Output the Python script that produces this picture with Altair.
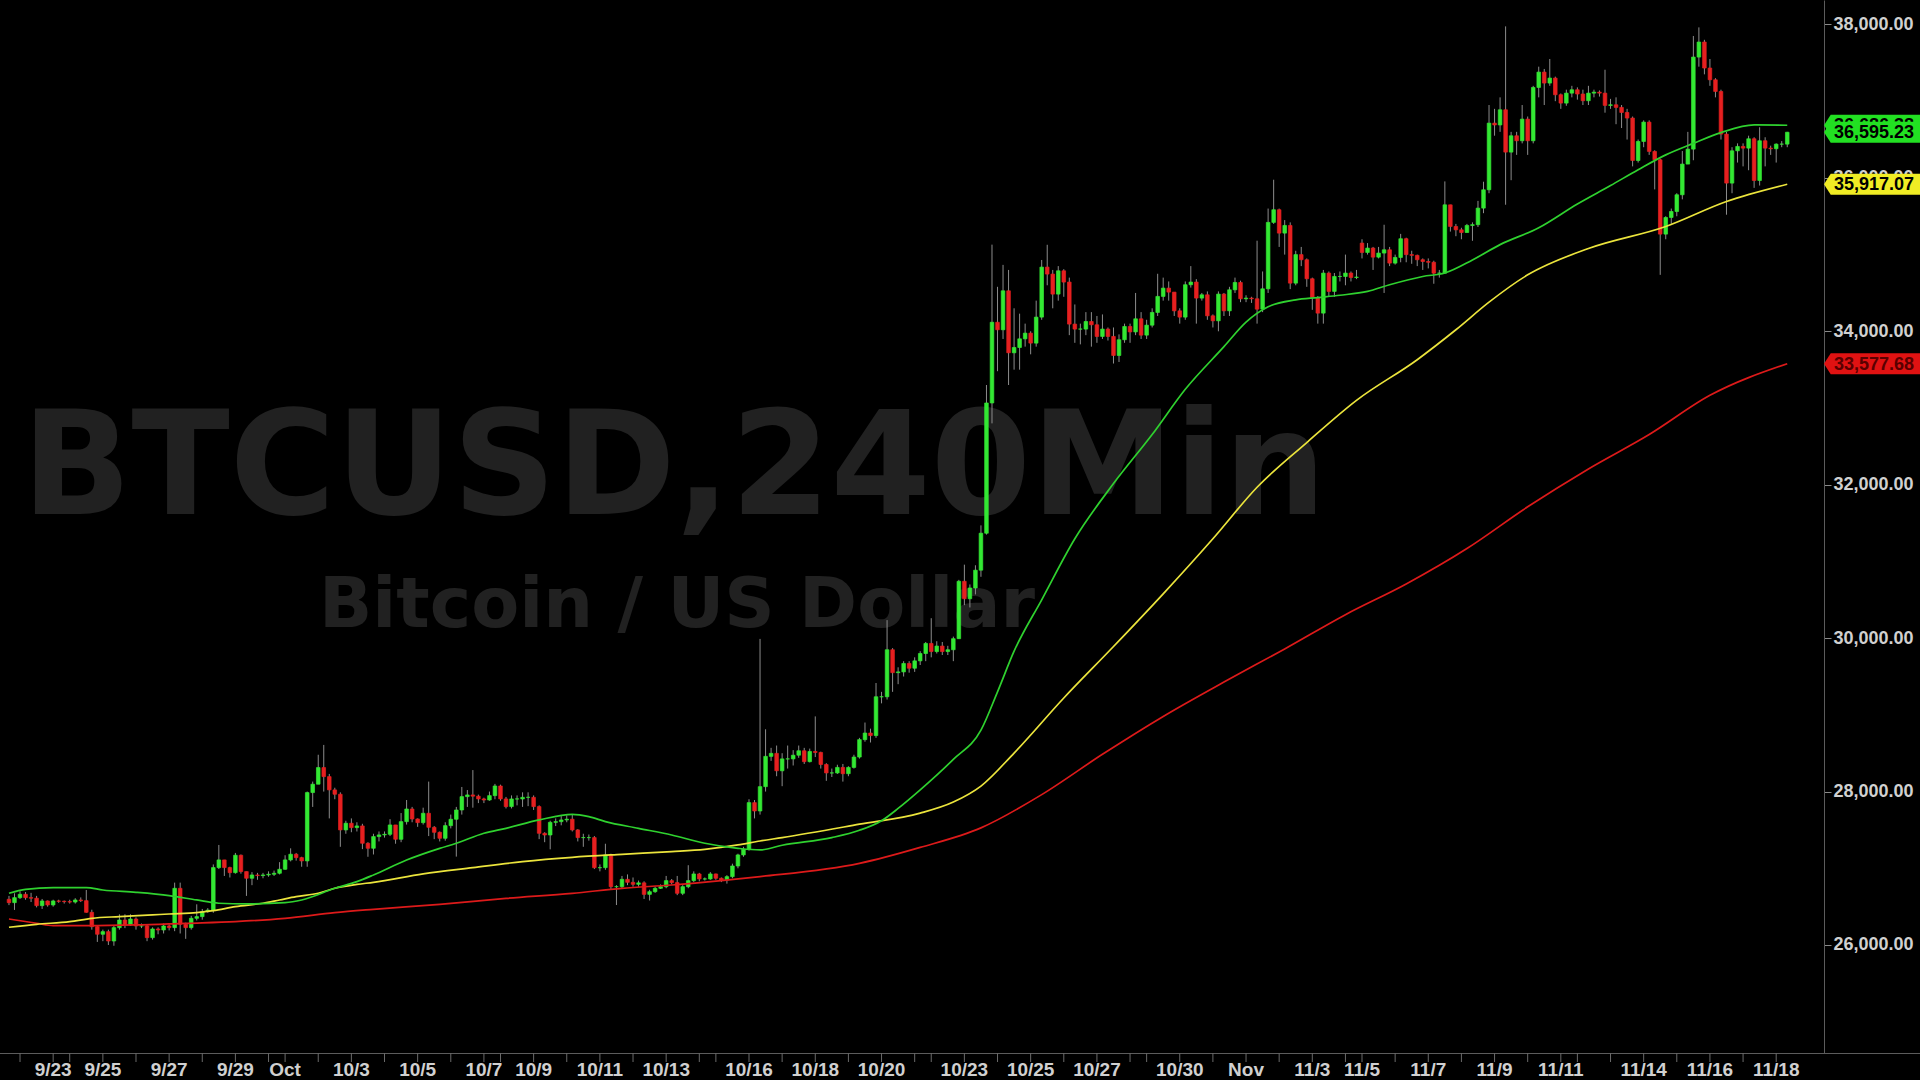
import altair as alt
import pandas as pd

# ---------------- data ----------------
FIRST_OPEN = 26596
OPEN_GAPS = {245: 35150}

CLOSE = [
    26552, 26617, 26661, 26617, 26610, 26513, 26574, 26522, 26574, 26570,
    26565, 26560, 26587, 26578, 26426, 26239, 26140, 26174, 26052, 26226,
    26326, 26261, 26339, 26248, 26250, 26096, 26209, 26196, 26248, 26226,
    26739, 26270, 26226, 26348, 26370, 26435, 26455, 27009, 27109, 27009,
    26943, 27170, 26957, 26870, 26913, 26905, 26913, 26922, 26935, 26987,
    27109, 27183, 27139, 27096, 27987, 28096, 28313, 28195, 28022, 27965,
    27500, 27587, 27530, 27552, 27326, 27261, 27413, 27435, 27443, 27565,
    27378, 27608, 27773, 27643, 27595, 27717, 27534, 27469, 27391, 27556,
    27639, 27760, 27934, 27956, 27940, 27904, 27890, 27947, 28073, 27904,
    27804, 27904, 27904, 27925, 27925, 27804, 27456, 27434, 27599, 27608,
    27630, 27640, 27500, 27400, 27400, 27400, 27008, 27008, 27174, 26760,
    26760, 26856, 26817, 26791, 26810, 26660, 26695, 26739, 26760, 26839,
    26813, 26674, 26760, 26839, 26926, 26861, 26861, 26926, 26870, 26847,
    26891, 27030, 27174, 27247, 27856, 27747, 28064, 28459, 28498, 28271,
    28426, 28426, 28474, 28532, 28390, 28523, 28510, 28353, 28243, 28243,
    28315, 28233, 28315, 28450, 28677, 28763, 28730, 29236, 29236, 29849,
    29550, 29560, 29670, 29608, 29704, 29800, 29931, 29825, 29897, 29825,
    29849, 29993, 30741, 30514, 30654, 30886, 31368, 33066, 34118, 34020,
    34528, 33720, 33789, 33902, 33976, 33846, 34185, 34837, 34746, 34485,
    34789, 34642, 34094, 34029, 34029, 34128, 34085, 33933, 34029, 33933,
    33685, 33890, 34063, 33992, 34163, 33950, 34080, 34246, 34455, 34563,
    34511, 34267, 34185, 34607, 34642, 34433, 34476, 34202, 34137, 34485,
    34267, 34541, 34637, 34424, 34433, 34424, 34289, 34554, 35420, 35585,
    35280, 35380, 34628, 35000, 34933, 34685, 34441, 34237, 34759, 34520,
    34715, 34715, 34759, 34702, 34707, 35028, 35085, 34967, 35020, 35063,
    34889, 34963, 35207, 35000, 34990, 34933, 34910, 34900, 34758, 34758,
    35649, 35367, 35323, 35288, 35380, 35390, 35606, 35845, 36714, 36690,
    36888, 36336, 36549, 36484, 36766, 36484, 37179, 37379, 37236, 37301,
    37084, 36975, 37105, 37149, 37093, 37006, 37105, 37118, 37105, 36945,
    36953, 36919, 36853, 36780, 36227, 36475, 36727, 36345, 36236, 35267,
    35484, 35562, 35780, 36180, 36375, 37575, 37771, 37432, 37279, 37127,
    36571, 35932, 36353, 36410, 36388, 36510, 35966, 36484, 36388, 36380,
    36440, 36440, 36595,
]

HIGH = [
    26640, 26674, 26700, 26690, 26680, 26640, 26600, 26580, 26590, 26590,
    26580, 26590, 26610, 26620, 26717, 26460, 26260, 26200, 26200, 26250,
    26400, 26400, 26400, 26360, 26280, 26270, 26230, 26230, 26280, 26270,
    26813, 26813, 26290, 26380, 26530, 26470, 26480, 27050, 27304, 27100,
    27020, 27200, 27180, 26950, 26950, 26940, 26940, 26960, 26970, 27080,
    27170, 27260, 27200, 27150, 28000, 28130, 28480, 28608, 28230, 28050,
    27990, 27620, 27650, 27600, 27580, 27340, 27450, 27480, 27480, 27640,
    27560, 27720, 27890, 27800, 27650, 27790, 28130, 27550, 27480, 27600,
    27700, 27800, 28060, 28020, 28280, 27960, 27920, 28000, 28100, 28090,
    27930, 27950, 27950, 27990, 27990, 27950, 27820, 27470, 27620, 27650,
    27680, 27690, 27700, 27510, 27450, 27440, 27420, 27050, 27320, 27190,
    26780, 26900, 26920, 26880, 26840, 26830, 26720, 26760, 26790, 26900,
    26860, 26900, 26780, 27040, 26960, 26940, 26880, 26950, 26930, 26880,
    26910, 27060, 27190, 27280, 27900, 27890, 29990, 28812, 28570, 28600,
    28500, 28600, 28540, 28600, 28570, 28560, 28980, 28520, 28370, 28300,
    28350, 28360, 28330, 28480, 28700, 28900, 28820, 29415, 29300, 30235,
    29870, 29620, 29700, 29700, 29750, 29830, 29950, 30260, 29960, 29950,
    29900, 30020, 30760, 30958, 30700, 30950, 31470, 33300, 35130, 34580,
    34866, 34800, 34300, 34230, 34100, 34000, 34400, 34930, 35128, 34800,
    34850, 34810, 34700, 34350, 34100, 34250, 34250, 34200, 34220, 34050,
    34050, 33960, 34100, 34100, 34500, 34250, 34150, 34300, 34750, 34700,
    34650, 34500, 34300, 34650, 34850, 34680, 34500, 34520, 34220, 34520,
    34500, 34580, 34700, 34660, 34470, 34450, 35181, 34780, 35600, 35976,
    35600, 35450, 35420, 35050, 35100, 34950, 34700, 34460, 34800, 34780,
    34760, 34780, 35000, 34780, 34800, 35200, 35150, 35100, 35100, 35389,
    35100, 35000, 35270, 35220, 35050, 35000, 34950, 34950, 34920, 34800,
    35954, 35650, 35400, 35350, 35400, 35420, 35700, 35950, 36950, 36900,
    37050, 37975, 36600, 36600, 36950, 36800, 37200, 37450, 37420, 37550,
    37320, 37100, 37150, 37200, 37180, 37150, 37200, 37150, 37140, 37410,
    37030, 37050, 36950, 36900, 36800, 36500, 36750, 36750, 36360, 36250,
    35500, 35600, 35800, 36350, 36600, 37850, 37962, 37800, 37550, 37300,
    37150, 36600, 36400, 36450, 36450, 36550, 36530, 36660, 36530, 36420,
    36450, 36480, 36600,
]

LOW = [
    26520, 26457, 26600, 26590, 26560, 26490, 26470, 26500, 26500, 26550,
    26540, 26540, 26540, 26560, 26420, 26200, 26040, 26050, 26000, 25990,
    26200, 26220, 26250, 26200, 26220, 26050, 26070, 26140, 26150, 26190,
    26180, 26150, 26080, 26200, 26320, 26330, 26420, 26420, 26990, 26900,
    26880, 26930, 26930, 26640, 26780, 26850, 26870, 26890, 26900, 26920,
    26980, 27090, 27100, 27020, 27020, 27800, 28110, 28000, 27650, 27900,
    27280, 27450, 27470, 27480, 27250, 27150, 27180, 27350, 27400, 27420,
    27320, 27340, 27570, 27600, 27540, 27570, 27420, 27380, 27350, 27360,
    27520, 27152, 27700, 27800, 27790, 27850, 27850, 27880, 27900, 27880,
    27780, 27780, 27820, 27800, 27810, 27760, 27380, 27340, 27247, 27550,
    27560, 27600, 27480, 27350, 27280, 27360, 26990, 26960, 26980, 26720,
    26521, 26740, 26780, 26760, 26760, 26600, 26580, 26680, 26730, 26740,
    26790, 26650, 26650, 26740, 26820, 26830, 26840, 26850, 26850, 26820,
    26800, 26870, 27000, 27150, 27230, 27650, 27700, 28000, 28400, 28200,
    28070, 28300, 28340, 28440, 28360, 28380, 28450, 28300, 28140, 28190,
    28230, 28130, 28200, 28300, 28430, 28650, 28640, 28700, 29150, 29200,
    29300, 29400, 29500, 29550, 29560, 29650, 29700, 29750, 29800, 29780,
    29780, 29700, 29990, 30430, 30400, 30570, 30800, 31350, 32800, 33480,
    33900, 33300, 33500, 33500, 33800, 33700, 33800, 34150, 34600, 34300,
    34400, 34450, 33950, 33850, 33830, 33950, 33800, 33850, 33900, 33880,
    33580, 33600, 33850, 33850, 33950, 33900, 33900, 34050, 34200, 34400,
    34400, 34200, 34100, 34150, 34570, 34100, 34400, 34150, 34050, 34000,
    34200, 34200, 34500, 34380, 34380, 34370, 34100, 34250, 34500, 35400,
    35100, 35000, 34550, 34600, 34850, 34580, 34280, 34100, 34100, 34450,
    34450, 34650, 34600, 34650, 34680, 34950, 35000, 34800, 34950, 34500,
    34850, 34870, 34900, 34900, 34880, 34850, 34800, 34820, 34620, 34700,
    34750, 35300, 35240, 35200, 35300, 35180, 35360, 35540, 35800, 36550,
    36600, 35650, 35970, 36300, 36450, 36300, 36450, 37050, 36950, 37200,
    37000, 36900, 36940, 37050, 37020, 36950, 36950, 37050, 37060, 36850,
    36900, 36700, 36650, 36500, 36150, 36200, 36400, 36300, 35850, 34736,
    35200, 35400, 35500, 35720, 36200, 36230, 37450, 37350, 37200, 37050,
    36500, 35520, 35800, 36200, 36150, 36100, 35870, 35900, 36150, 36300,
    36200, 36400, 36400,
]

GREEN_I = [0, 3, 8, 14, 17, 23, 29, 34, 38, 43, 50, 53, 59, 63, 66, 72, 78, 81, 86, 90,
           96, 102, 105, 108, 114, 120, 126, 132, 136, 140, 149, 154, 158, 161, 165, 171,
           176, 179, 182, 187, 193, 200, 207, 213, 220, 224, 228, 233, 237, 241, 246, 250,
           256, 260, 265, 270, 277, 284, 290, 295, 300, 305, 310, 316, 322]
GREEN_V = [26674, 26726, 26748, 26748, 26717, 26687, 26644, 26587, 26544, 26535, 26552,
           26587, 26739, 26826, 26913, 27108, 27260, 27326, 27456, 27521, 27630, 27704,
           27673, 27608, 27521, 27434, 27326, 27260, 27239, 27300, 27400, 27495, 27620,
           27780, 28022, 28420, 28800, 29300, 29830, 30500, 31296, 32015, 32654, 33244,
           33800, 34120, 34320, 34410, 34440, 34470, 34520, 34607, 34715, 34760, 34930,
           35130, 35350, 35660, 35900, 36106, 36300, 36450, 36590, 36690, 36686]

YELLOW_I = [0, 5, 11, 15, 20, 26, 29, 34, 37, 41, 46, 49, 52, 56, 59, 63, 66, 75, 84, 93,
            102, 111, 120, 126, 132, 136, 140, 154, 165, 171, 176, 182, 191, 200, 209, 218,
            226, 235, 244, 255, 262, 268, 275, 286, 300, 311, 322]
YELLOW_V = [26231, 26270, 26304, 26348, 26370, 26392, 26404, 26422, 26448, 26500, 26544,
            26587, 26630, 26674, 26740, 26790, 26817, 26926, 27008, 27087, 27143, 27182,
            27217, 27247, 27304, 27356, 27400, 27575, 27719, 27863, 28071, 28502, 29220,
            29891, 30578, 31296, 31967, 32550, 33100, 33630, 34020, 34380, 34736, 35080,
            35367, 35693, 35917]

RED_I = [0, 5, 8, 14, 23, 32, 41, 50, 59, 66, 78, 90, 102, 111, 120, 129, 136, 154, 165,
         176, 187, 198, 209, 220, 231, 242, 253, 264, 275, 286, 297, 308, 322]
RED_V = [26339, 26283, 26252, 26252, 26261, 26283, 26305, 26348, 26422, 26465, 26530,
         26608, 26674, 26739, 26782, 26839, 26891, 27064, 27272, 27527, 27960, 28486,
         28980, 29428, 29859, 30306, 30706, 31168, 31712, 32206, 32654, 33165, 33578]

DAY_TICKS = [2, 8, 11, 17, 23, 29, 35, 41, 47, 50, 56, 62, 68, 74, 80, 86, 89, 95, 101,
             107, 113, 119, 125, 128, 134, 140, 146, 152, 158, 164, 167, 173, 179, 185,
             191, 197, 203, 206, 212, 218, 224, 230, 236, 242, 245, 251, 257, 263, 269,
             275, 281, 284, 290, 296, 302, 308, 314, 320]
LABEL_POS = [8, 17, 29, 41, 50, 62, 74, 86, 95, 107, 119, 134, 146, 158, 173, 185, 197,
             212, 224, 236, 245, 257, 269, 281, 296, 308, 320]
LABEL_TEXT = ["9/23", "9/25", "9/27", "9/29", "Oct", "10/3", "10/5", "10/7", "10/9",
              "10/11", "10/13", "10/16", "10/18", "10/20", "10/23", "10/25", "10/27",
              "10/30", "Nov", "11/3", "11/5", "11/7", "11/9", "11/11", "11/14", "11/16",
              "11/18"]
PRICE_TICKS = [26000, 28000, 30000, 32000, 34000, 36000, 38000]

FLAG_VALUES = [36686.38, 36595.23, 35917.07, 33577.68]
WATERMARK = ["BTCUSD,240Min", "Bitcoin / US Dollar"]

# ---------------- styles ----------------
UP, DOWN = "#33e833", "#e62020"
FLAG_FILL = ["#22e022", "#22e022", "#f0ec24", "#e01212"]
FLAG_TEXT = ["#000000", "#000000", "#000000", "#5a0000"]
AXIS_GREY = "#5c5c5c"
LABEL_GREY = "#d0d0d0"
W, H = 1824, 1053

# ---------------- build tables ----------------
n = len(CLOSE)
opens = [FIRST_OPEN] + CLOSE[:-1]
for k, v in OPEN_GAPS.items():
    opens[k] = v
df = pd.DataFrame({"i": list(range(n)), "o": opens, "c": CLOSE, "h": HIGH, "l": LOW})
df["h"] = df[["h", "o", "c"]].max(axis=1)
df["l"] = df[["l", "o", "c"]].min(axis=1)
df["dir"] = ["up" if c >= o else "down" for o, c in zip(df["o"], df["c"])]

xs = alt.Scale(domain=[-0.72, 327.75], nice=False, zero=False)
ys = alt.Scale(domain=[24592, 38319], nice=False, zero=False)

y_axis = alt.Axis(orient="right", values=PRICE_TICKS, format=",.2f", title=None, grid=False,
                  domainColor=AXIS_GREY, tickColor="#8a8a8a", tickSize=7,
                  labelColor=LABEL_GREY, labelFont="Liberation Sans", labelFontWeight="bold",
                  labelFontSize=18, labelPadding=2, labelOverlap=False, labelFlush=False)

layers = []

# watermark
wm_pos = [(674, 514, 144), (677, 627, 70)]
for txt, (px, py, fs) in zip(WATERMARK, wm_pos):
    layers.append(
        alt.Chart(pd.DataFrame({"t": [txt]})).mark_text(
            font="DejaVu Sans", fontWeight="bold", fontSize=fs, color="#212121",
            align="center", baseline="alphabetic"
        ).encode(x=alt.value(px), y=alt.value(py), text="t:N")
    )

base = alt.Chart(df)
wicks = base.mark_rule(color="#8c8c8c", strokeWidth=1).encode(
    x=alt.X("i:Q", scale=xs, axis=None),
    y=alt.Y("l:Q", scale=ys, axis=y_axis),
    y2="h:Q",
)
cscale = alt.Scale(domain=["up", "down"], range=[UP, DOWN])
bodies = base.mark_bar(size=3.6, strokeWidth=0.7).encode(
    x="i:Q", y="o:Q", y2="c:Q",
    color=alt.Color("dir:N", scale=cscale, legend=None),
    stroke=alt.Stroke("dir:N", scale=cscale, legend=None),
)
layers += [wicks, bodies]

for idx, vals, col in [(RED_I, RED_V, "#dd1a1a"), (YELLOW_I, YELLOW_V, "#ebe43c"),
                       (GREEN_I, GREEN_V, "#2fd12f")]:
    layers.append(
        alt.Chart(pd.DataFrame({"i": idx, "v": vals})).mark_line(
            color=col, strokeWidth=1.7, interpolate="monotone"
        ).encode(x="i:Q", y="v:Q")
    )

# x-axis line across the whole width, day ticks and date labels
layers.append(
    alt.Chart(pd.DataFrame({"a": [0]})).mark_rule(color=AXIS_GREY, strokeWidth=1).encode(
        x=alt.value(0), x2=alt.value(1920), y=alt.value(H + 0.5)
    )
)
layers.append(
    alt.Chart(pd.DataFrame({"i": DAY_TICKS})).mark_rule(color="#6a6a6a", strokeWidth=1).encode(
        x="i:Q", y=alt.value(H), y2=alt.value(H + 9)
    )
)
layers.append(
    alt.Chart(pd.DataFrame({"i": LABEL_POS, "t": LABEL_TEXT})).mark_text(
        font="Liberation Sans", fontWeight="bold", fontSize=19, color=LABEL_GREY,
        align="center", baseline="alphabetic"
    ).encode(x="i:Q", y=alt.value(H + 23), text="t:N")
)

flag_path = "M-1,0 L-0.86,-0.22 L1,-0.22 L1,0.22 L-0.86,0.22 Z"
for v, fill, tcol in zip(FLAG_VALUES, FLAG_FILL, FLAG_TEXT):
    fd = pd.DataFrame({"v": [v], "t": [f"{v:,.2f}"]})
    layers.append(
        alt.Chart(fd).mark_point(shape=flag_path, filled=True, size=9216, color=fill,
                                 opacity=1).encode(x=alt.value(1872), y="v:Q")
    )
    layers.append(
        alt.Chart(fd).mark_text(font="Liberation Sans", fontWeight="bold", fontSize=18,
                                color=tcol, align="left", baseline="middle", dy=1).encode(
            x=alt.value(1834), y="v:Q", text="t:N")
    )

chart = alt.layer(*layers).properties(
    width=W, height=H,
    autosize=alt.AutoSizeParams(type="none"),
    padding={"left": 0, "top": 0, "right": 96, "bottom": 27},
    background="#000000",
).configure_view(stroke=None)

chart.save("out.html", embed_options={"renderer": "svg", "actions": False})
